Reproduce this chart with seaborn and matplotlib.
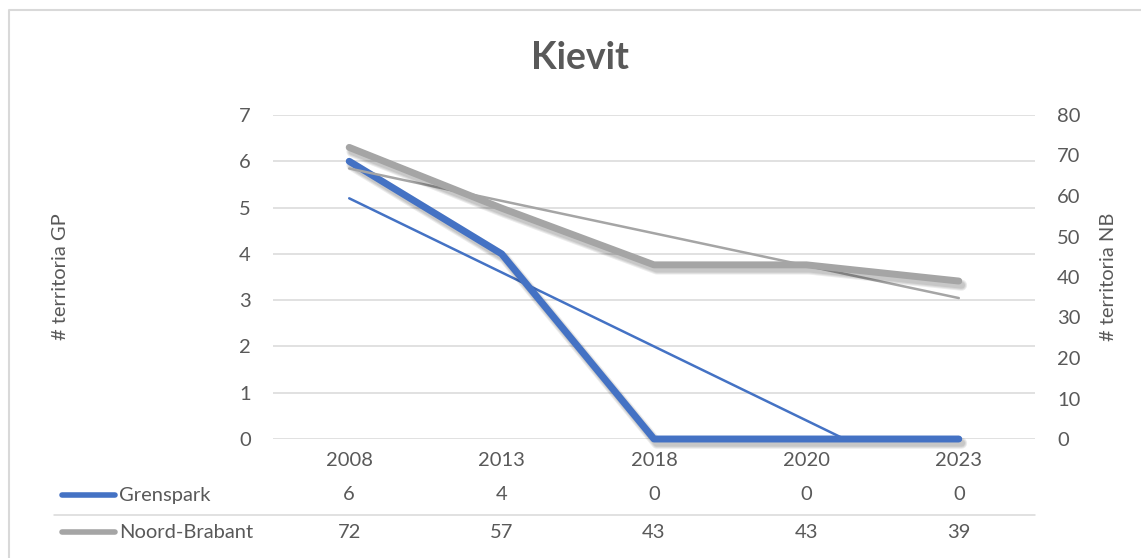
import matplotlib
matplotlib.use("Agg")
import matplotlib.pyplot as plt
import matplotlib.patheffects as pe
import matplotlib.transforms as mtransforms
from matplotlib.lines import Line2D
import seaborn as sns
import numpy as np

# data
years = ["2008", "2013", "2018", "2020", "2023"]
grenspark = [6, 4, 0, 0, 0]
noord_brabant = [72, 57, 43, 43, 39]

title = "Kievit"
left_label = "# territoria GP"
right_label = "# territoria NB"

blue = "#4472C4"
gray = "#A5A5A5"
text_color = "#595959"
grid_color = "#D9D9D9"

sns.set_style("white")
plt.rcParams["font.family"] = ["Lato", "DejaVu Sans"]

W, H = 1141, 558
fig = plt.figure(figsize=(W / 100, H / 100), dpi=100)


def fx(px):
    return px / W


def fy(py):
    return 1 - py / H


ax = fig.add_axes([fx(273), fy(439), fx(1035) - fx(273), fy(115) - fy(439)])
ax2 = ax.twinx()

x = np.arange(len(years))


# soft drop shadow like Excel's
def shadow(lw):
    effects = []
    for i in range(3):
        effects.append(pe.SimpleLineShadow(offset=(2, -3), shadow_color="black",
                                           alpha=0.08, linewidth=lw + 1.5 * i))
    effects.append(pe.Normal())
    return effects


# main series
sns.lineplot(x=x, y=grenspark, ax=ax, color=blue, linewidth=5,
             solid_capstyle="round", solid_joinstyle="round",
             path_effects=shadow(5), clip_on=False, zorder=3)
sns.lineplot(x=x, y=noord_brabant, ax=ax2, color=gray, linewidth=5,
             solid_capstyle="round", solid_joinstyle="round",
             path_effects=shadow(5), clip_on=False, zorder=3)

# linear trend lines
gp_fit = np.polyval(np.polyfit(x, grenspark, 1), x)
nb_fit = np.polyval(np.polyfit(x, noord_brabant, 1), x)
ax.plot(x, gp_fit, color=blue, linewidth=1.8, solid_capstyle="round", zorder=2)
ax2.plot(x, nb_fit, color=gray, linewidth=1.8, solid_capstyle="round", zorder=2)

# axes styling
ax.set_xlim(-0.5, len(years) - 0.5)
ax.set_ylim(0, 7)
ax2.set_ylim(0, 80)
ax.set_yticks(range(0, 8))
ax2.set_yticks(range(0, 81, 10))
ax.set_xticks([])
for a in (ax, ax2):
    for s in a.spines.values():
        s.set_visible(False)
    a.tick_params(axis="y", length=0, labelsize=14.5, labelcolor=text_color, pad=16)
    a.set_facecolor("none")
ax.yaxis.grid(True, color=grid_color, linewidth=1.1)
ax.set_axisbelow(True)
ax.set_ylabel("")
ax2.set_ylabel("")

# title and axis titles
fig.text(fx(580), fy(58), title, ha="center", va="center", fontsize=27,
         fontweight="bold", color=text_color)
fig.text(fx(60), fy(277), left_label, ha="center", va="center", rotation=90,
         fontsize=14.5, color=text_color)
fig.text(fx(1108), fy(277), right_label, ha="center", va="center", rotation=90,
         fontsize=14.5, color=text_color)

# data table below the chart
trans = mtransforms.blended_transform_factory(ax.transData, fig.transFigure)
for i, yr in enumerate(years):
    ax.text(i, fy(461), yr, transform=trans, ha="center", va="center",
            fontsize=14.5, color=text_color, clip_on=False)
    ax.text(i, fy(495), str(grenspark[i]), transform=trans, ha="center", va="center",
            fontsize=14.5, color=text_color, clip_on=False)
    ax.text(i, fy(532), str(noord_brabant[i]), transform=trans, ha="center", va="center",
            fontsize=14.5, color=text_color, clip_on=False)

for name, color, py in [("Grenspark", blue, 495), ("Noord-Brabant", gray, 532)]:
    fig.add_artist(Line2D([fx(62), fx(115)], [fy(py), fy(py)], color=color,
                          linewidth=4, solid_capstyle="round"))
    fig.text(fx(119), fy(py), name, ha="left", va="center", fontsize=14.5,
             color=text_color)

fig.add_artist(Line2D([fx(54), fx(1035)], [fy(515), fy(515)], color=grid_color,
                      linewidth=1.1))

# outer chart border
fig.add_artist(Line2D([fx(8.5), fx(8.5), fx(W + 5)], [fy(H + 5), fy(10), fy(10)],
                      color=grid_color, linewidth=1.5))

fig.savefig("out.png", dpi=100, facecolor="white")
